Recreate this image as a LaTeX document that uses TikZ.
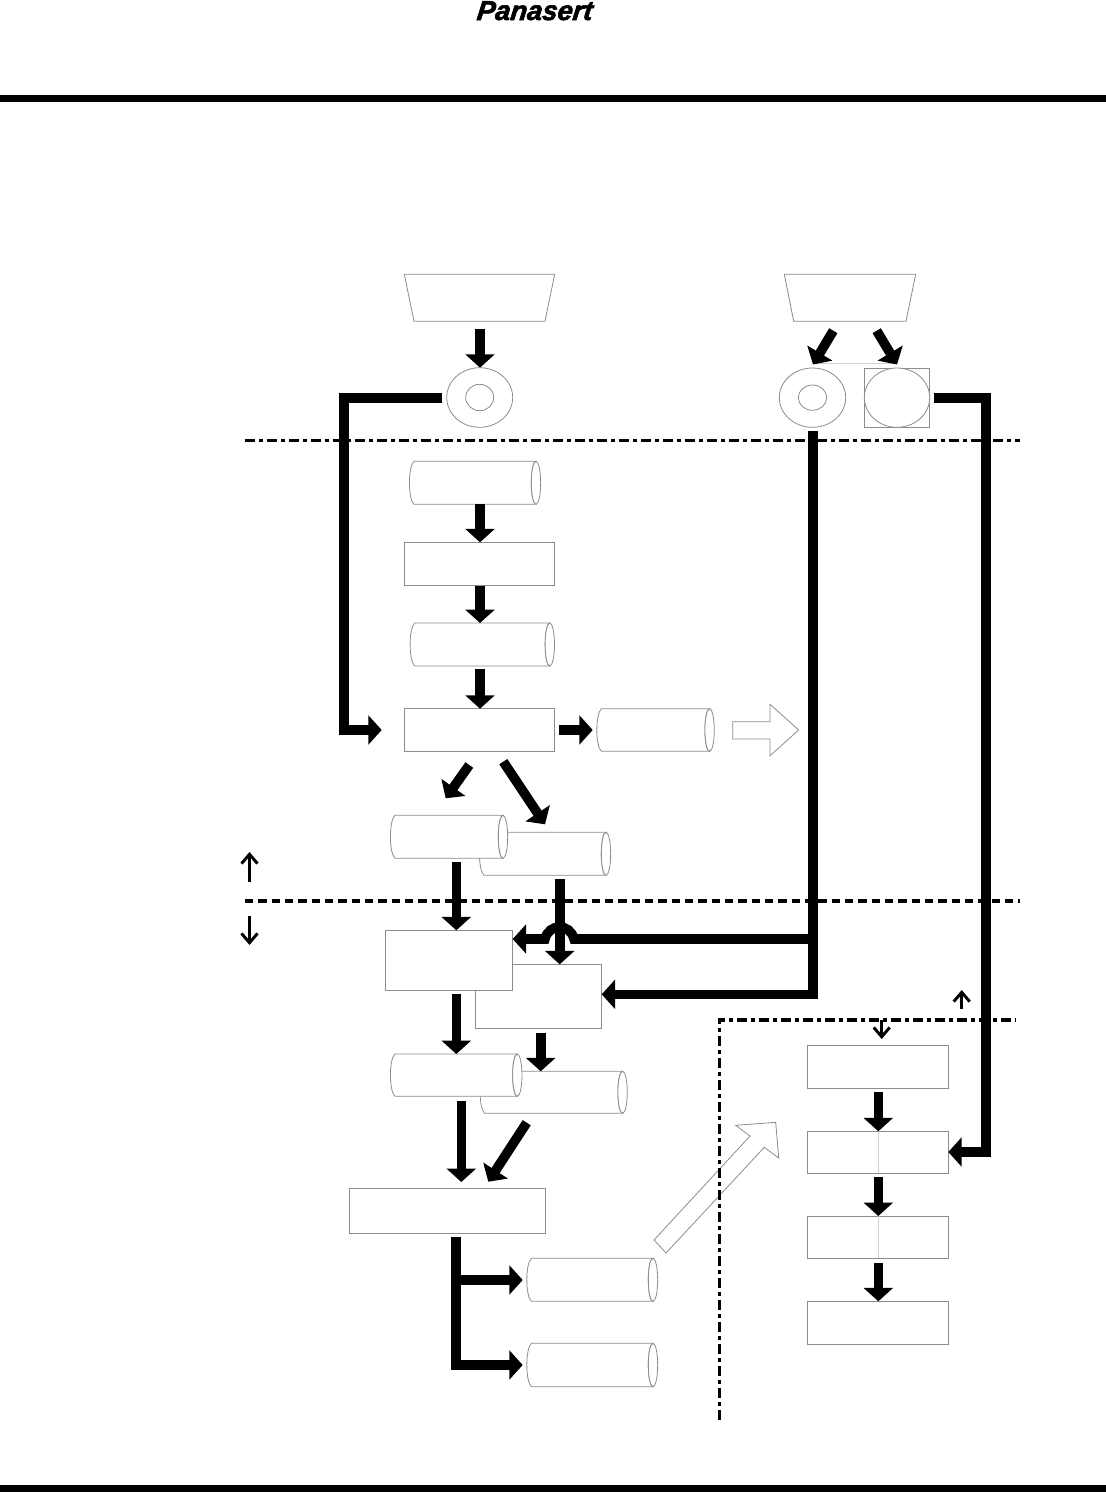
\documentclass[tikz,border=0pt]{standalone}
\usepackage{fontspec}
\setmainfont{Liberation Sans}
\newfontfamily\logofont[FakeBold=2.2,FakeSlant=0.12]{Liberation Sans Bold Italic}
\usetikzlibrary{arrows.meta,calc,shapes.geometric}
\definecolor{thinline}{gray}{0.55}
\definecolor{faintline}{gray}{0.82}
\tikzset{
  shapeline/.style={draw=thinline,line width=0.6pt,inner sep=0pt,outer sep=0pt,fill=white},
  boxs/.style={shapeline,rectangle},
  ghost/.style={rectangle,inner sep=0pt,outer sep=0pt},
  ells/.style={shapeline,ellipse},
  flow/.style={line width=7.2pt,miter limit=10,-{Triangle[width=21.5pt,length=10pt]}},
  bound/.style={line width=2.5pt,black},
  dashdot/.style={bound,dash pattern=on 7.5pt off 3pt on 3pt off 3pt},
  dashonly/.style={bound,dash pattern=on 6.2pt off 3.8pt},
  sideways/.style={line width=2.2pt,-{Straight Barb[length=7pt,width=12pt]}},
  hollow/.style={draw=thinline,line width=0.6pt,line join=miter},
  faint/.style={draw=faintline,line width=0.7pt},
}
\newcommand{\boxn}[5]{\node[boxs,minimum width={(#4-#2)*0.75pt},minimum height={(#5-#3)*0.75pt}] (#1) at ({(#2+#4)/2},{(#3+#5)/2}) {};}
\newcommand{\elln}[5]{\node[ells,minimum width={(#4-#2)*0.75pt},minimum height={(#5-#3)*0.75pt}] (#1) at ({(#2+#4)/2},{(#3+#5)/2}) {};}
% cylinder lying on its side: name, x1, y1, x2, y2
\newcommand{\cyln}[5]{%
  \node[ghost,minimum width={(#4-#2)*0.75pt},minimum height={(#5-#3)*0.75pt}] (#1) at ({(#2+#4)/2},{(#3+#5)/2}) {};
  \draw[shapeline] ({#4-4.7},#3) -- ({#2+4.7},#3)
    .. controls ({#2-1.4},{#3+0.12*(#5-#3)}) and ({#2-1.4},{#5-0.12*(#5-#3)}) .. ({#2+4.7},#5)
    -- ({#4-4.7},#5)
    .. controls ({#4-4.7-6.27},{#5}) and ({#4-4.7-6.27},{#3}) .. ({#4-4.7},#3) -- cycle;
  \draw[shapeline] ({#4-4.7},{(#3+#5)/2}) ellipse [x radius=3.5pt,y radius={(#5-#3)/2*0.75pt}];
}
% hopper: name, top x1, top x2, bottom x1, bottom x2
\newcommand{\hopn}[5]{%
  \node[ghost,minimum width={(#3-#2)*0.75pt},minimum height={47*0.75pt}] (#1) at ({(#2+#3)/2},297.8) {};
  \draw[shapeline] (#2,274.3) -- (#3,274.3) -- (#5,321.3) -- (#4,321.3) -- cycle;
}
\begin{document}
\begin{tikzpicture}[x=0.75pt,y=-0.75pt]
\useasboundingbox (0,0) rectangle (1106,1492);
% logo and page rules
\node[anchor=base west,inner sep=0pt] (logo) at (476,20) {\fontsize{20.5pt}{20.5pt}\selectfont\logofont Panasert};
\fill (0,95) rectangle (1106,101.5);
\fill (0,1485) rectangle (1106,1492);
% top: hoppers
\hopn{t1}{404.3}{554.7}{414}{545}
\hopn{t2}{784.3}{915.7}{793.7}{906}
\elln{e1}{446.7}{367.7}{512.7}{427.3}
\elln{e1i}{465.7}{384.3}{493.7}{410.7}
\elln{e2}{779.3}{368}{845.7}{427.3}
\elln{e2i}{798.3}{385}{826.7}{410.3}
\boxn{s3}{864.3}{368}{929.7}{427.3}
\elln{e3}{864.3}{368}{929.7}{427.3}
\coordinate (fa) at (813,363);
\coordinate (fb) at (897,363);
\draw[faint] (fa) -- (fb);
% left column
\cyln{c1}{409.3}{461.3}{540.7}{504.3}
\boxn{b1}{404.3}{542.3}{554.7}{585}
\cyln{c2}{410}{623}{554.5}{666}
\boxn{b2}{404.3}{708.7}{554.3}{751.3}
\cyln{c3}{596.7}{708.7}{714.3}{751.3}
\cyln{c5}{479.3}{832.3}{610.7}{875.3}
\cyln{c4}{390.3}{815.3}{507.7}{858.3}
\boxn{b4}{475.3}{964.3}{601.7}{1028.3}
\boxn{b3}{385.7}{930.3}{512.7}{990.3}
\cyln{c7}{480}{1071.3}{627.3}{1113.3}
\cyln{c6}{390.3}{1054}{522}{1096.3}
\boxn{b5}{349.3}{1188.3}{545.7}{1233.3}
\cyln{c8}{526.7}{1258.3}{657.7}{1301.3}
\cyln{c9}{526.7}{1343.3}{657.7}{1386.7}
% right column
\boxn{b6}{807.7}{1045.3}{948.3}{1088.3}
\boxn{b7}{807.7}{1131.3}{948.3}{1173.3}
\boxn{b8}{807.7}{1216}{948.3}{1258.3}
\boxn{b9}{807.7}{1301.3}{948.3}{1344}
\draw[faint] (b7.north) -- (b7.south);
\draw[faint] (b8.north) -- (b8.south);
% hollow arrows
\draw[hollow] (732.7,721.7) -- (770,721.7) -- (770,704.3) -- (798.7,730) -- (770,755.7) -- (770,739) -- (732.7,739) -- cycle;
\draw[hollow] (654,1240) -- (750,1136) -- (735.7,1125.3) -- (775.7,1122.3) -- (778.7,1158) -- (764.3,1147.3) -- (666,1253) -- cycle;
% boundary lines
\coordinate (la) at (245,440.3);
\coordinate (lb) at (1020,440.3);
\draw[dashdot] (la) -- (lb);
\coordinate (lc) at (245,901);
\coordinate (ld) at (1020,901);
\draw[dashonly] (lc) -- (ld);
\coordinate (le) at (719.3,1420);
\coordinate (lf) at (719.3,1020);
\coordinate (lg) at (1016,1020);
\draw[dashdot] (le) -- (lf) -- (lg);
% small direction arrows
\coordinate (u1a) at (249.5,881.7);
\coordinate (u1b) at (249.5,852);
\coordinate (d1a) at (249.5,916);
\coordinate (d1b) at (249.5,945);
\coordinate (u2a) at (961.7,1008.7);
\coordinate (u2b) at (961.7,990);
\coordinate (d2a) at (881.7,1020);
\coordinate (d2b) at (881.7,1039);
\draw[sideways] (u1a) -- (u1b);
\draw[sideways] (d1a) -- (d1b);
\draw[sideways] (u2a) -- (u2b);
\draw[sideways] (d2a) -- (d2b);
% flow tails
\coordinate (f1) at (480,329);
\coordinate (f2) at (442.3,398);
\coordinate (f2a) at (343.7,398);
\coordinate (f2b) at (343.7,730);
\coordinate (f2c) at (381.7,730);
\coordinate (f3) at (480,504);
\coordinate (f4) at (480,586);
\coordinate (f5) at (480,669);
\coordinate (f6) at (559.3,730);
\coordinate (f7) at (469.3,765);
\coordinate (f7t) at (445.7,798.3);
\coordinate (f8) at (503.3,761.7);
\coordinate (f8t) at (545,824.3);
\coordinate (f9) at (456.3,862.3);
\coordinate (f10) at (559.7,879.3);
\coordinate (f11) at (813,431);
\coordinate (f11a) at (813,994.3);
\coordinate (f12) at (813,939);
\coordinate (h1) at (574,939);
\coordinate (h2) at (545,939);
\coordinate (f13) at (456.3,994.3);
\coordinate (f14) at (540.7,1032.7);
\coordinate (f15) at (461.3,1101);
\coordinate (f15t) at (461.3,1182);
\coordinate (f16) at (526.7,1122.7);
\coordinate (f16t) at (488.3,1181.7);
\coordinate (f17) at (456,1237);
\coordinate (f17a) at (456,1365);
\coordinate (f17b) at (456,1280);
\coordinate (f18) at (934,398);
\coordinate (f18a) at (986,398);
\coordinate (f18b) at (986,1152);
\coordinate (f19) at (878.3,1092.3);
\coordinate (f20) at (878.3,1177.3);
\coordinate (f21) at (878.3,1262.7);
\coordinate (f22) at (833.3,330.7);
\coordinate (f22t) at (813,364.5);
\coordinate (f23) at (876.7,330.7);
\coordinate (f23t) at (897,364.5);
% flows
\draw[flow] (f1) -- (f1 |- e1.north);
\draw[flow] (f2) -- (f2a) -- (f2b) -- (f2c);
\draw[flow] (f3) -- (f3 |- b1.north);
\draw[flow] (f4) -- (f4 |- c2.north);
\draw[flow] (f5) -- (f5 |- b2.north);
\draw[flow,shorten >=3pt] (f6) -- (f6 -| c3.west);
\draw[flow] (f7) -- (f7t);
\draw[flow] (f8) -- (f8t);
\draw[flow] (f9) -- (f9 |- b3.north);
\draw[flow] (f12) -- (h1) .. controls (570,923) and (549,923) .. (h2) -- (h2 -| b3.east);
\draw[flow] (f10) -- (f10 |- b4.north);
\draw[flow] (f11) -- (f11a) -- (f11a -| b4.east);
\draw[flow] (f13) -- (f13 |- c6.north);
\draw[flow] (f14) -- (f14 |- c7.north);
\draw[flow] (f15) -- (f15t);
\draw[flow] (f16) -- (f16t);
\draw[flow,shorten >=3pt] (f17) -- (f17a) -- (f17a -| c9.west);
\draw[flow,shorten >=3pt] (f17b) -- (f17b -| c8.west);
\draw[flow] (f18) -- (f18a) -- (f18b) -- (f18b -| b7.east);
\draw[flow] (f19) -- (f19 |- b7.north);
\draw[flow] (f20) -- (f20 |- b8.north);
\draw[flow] (f21) -- (f21 |- b9.north);
\draw[flow] (f22) -- (f22t);
\draw[flow] (f23) -- (f23t);
\end{tikzpicture}
\end{document}
